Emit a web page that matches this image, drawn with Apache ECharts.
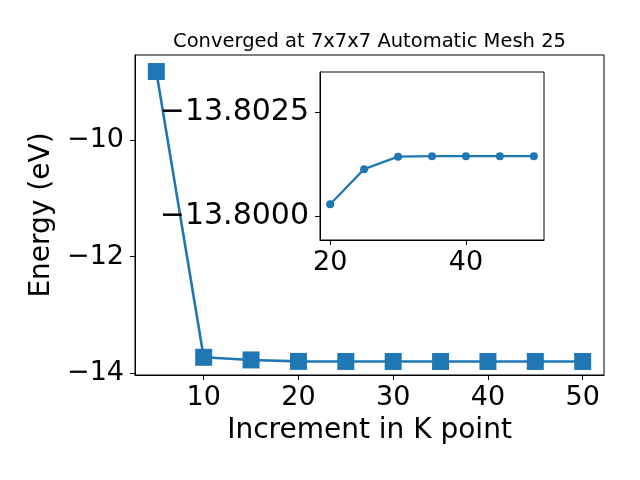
<!DOCTYPE html>
<html>
<head>
<meta charset="utf-8">
<script src="https://cdn.jsdelivr.net/npm/echarts@6/dist/echarts.min.js"></script>
<style>html,body{margin:0;padding:0;background:#fff}#c{width:640px;height:480px}</style>
</head>
<body>
<div id="c"></div>
<script>
var kpoints = [5, 10, 15, 20, 25, 30, 35, 40, 45, 50];
var energy = [-8.82, -13.73, -13.775, -13.8003, -13.80114, -13.80144, -13.80145, -13.80145, -13.80145, -13.80145];
var insetK = [20, 25, 30, 35, 40, 45, 50];
var insetEnergy = [-13.80030, -13.80114, -13.80144, -13.80145, -13.80145, -13.80145, -13.80145];
var mainXTicks = [10, 20, 30, 40, 50];
var mainYTicks = [-14, -12, -10];
var insetXTicks = [20, 40];
var insetYTicks = [-13.8025, -13.8000];
var titleText = 'Converged at 7x7x7 Automatic Mesh 25';
var xName = 'Increment in K point';
var yName = 'Energy (eV)';

var FONT = 'DejaVu Sans';
var BLUE = '#1f77b4';
function minus(s) { return String(s).replace('-', '\u2212'); }
function pairs(xs, ys) { return xs.map(function (x, i) { return [x, ys[i]]; }); }

var axisCommon = {
  axisLine: { show: true, lineStyle: { color: '#000', width: 1 } },
  axisTick: { show: true, length: 5, inside: false, lineStyle: { color: '#000', width: 1 } },
  splitLine: { show: false }
};

var chart = echarts.init(document.getElementById('c'), null, { renderer: 'canvas' });
chart.setOption({
  animation: false,
  backgroundColor: '#fff',
  graphic: [{
    type: 'text', x: 369.5, y: 42, z: 10,
    style: { text: titleText, fontFamily: FONT, fontSize: 19.5, fill: '#000', align: 'center', verticalAlign: 'middle' }
  }],
  grid: [
    { left: 135, right: 36, top: 55, bottom: 105, show: true, borderColor: '#000', borderWidth: 1, backgroundColor: 'transparent' },
    { left: 320, top: 72, width: 224, height: 168, show: true, borderColor: '#000', borderWidth: 1, backgroundColor: '#fff', z: 5 }
  ],
  xAxis: [
    Object.assign({}, axisCommon, {
      type: 'value', gridIndex: 0, min: 2.75, max: 52.25,
      name: xName, nameLocation: 'middle', nameGap: 42,
      nameTextStyle: { fontFamily: FONT, fontSize: 28, color: '#000' },
      axisTick: Object.assign({}, axisCommon.axisTick, { customValues: mainXTicks }),
      axisLabel: { customValues: mainXTicks, fontFamily: FONT, fontSize: 27, color: '#000', margin: 9 }
    }),
    Object.assign({}, axisCommon, {
      type: 'value', gridIndex: 1, min: 18.5, max: 51.5, z: 6,
      axisTick: Object.assign({}, axisCommon.axisTick, { customValues: insetXTicks }),
      axisLabel: { customValues: insetXTicks, fontFamily: FONT, fontSize: 27, color: '#000', margin: 9 }
    })
  ],
  yAxis: [
    Object.assign({}, axisCommon, {
      type: 'value', gridIndex: 0, min: -14.034, max: -8.536,
      name: yName, nameLocation: 'middle', nameGap: 68,
      nameTextStyle: { fontFamily: FONT, fontSize: 28, color: '#000' },
      axisTick: Object.assign({}, axisCommon.axisTick, { customValues: mainYTicks }),
      axisLabel: { customValues: mainYTicks, fontFamily: FONT, fontSize: 27, color: '#000', margin: 11,
        formatter: function (v) { return minus(v); } }
    }),
    Object.assign({}, axisCommon, {
      type: 'value', gridIndex: 1, min: -13.80347, max: -13.79944, inverse: true, z: 6,
      axisTick: Object.assign({}, axisCommon.axisTick, { customValues: insetYTicks }),
      axisLabel: { customValues: insetYTicks, fontFamily: FONT, fontSize: 30, color: '#000', margin: 11,
        formatter: function (v) { return minus(v.toFixed(4)); } }
    })
  ],
  series: [
    {
      type: 'line', xAxisIndex: 0, yAxisIndex: 0, data: pairs(kpoints, energy),
      symbol: 'rect', symbolSize: 17, lineStyle: { color: BLUE, width: 2.6 },
      itemStyle: { color: BLUE }, z: 2
    },
    {
      type: 'line', xAxisIndex: 1, yAxisIndex: 1, data: pairs(insetK, insetEnergy),
      symbol: 'circle', symbolSize: 8, lineStyle: { color: BLUE, width: 2.2 },
      itemStyle: { color: BLUE }, z: 7
    }
  ]
});
</script>
</body>
</html>
